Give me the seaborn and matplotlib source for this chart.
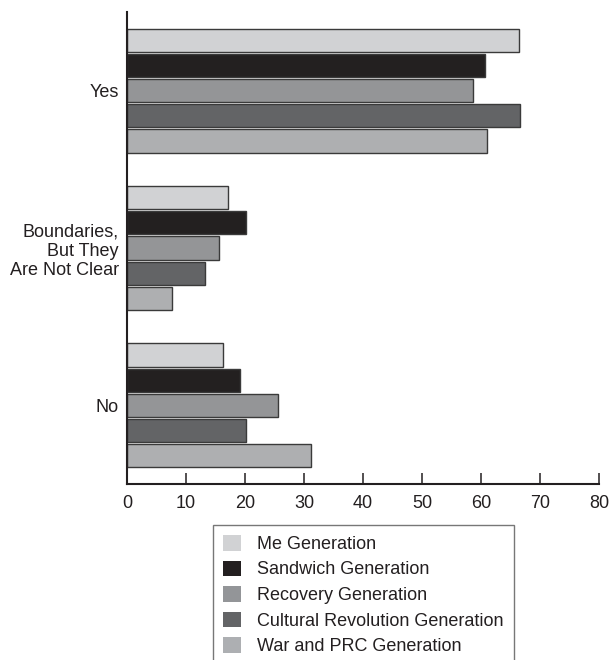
import matplotlib
matplotlib.use("Agg")
import matplotlib.pyplot as plt
from matplotlib.patches import Patch
import pandas as pd
import seaborn as sns

# ── Data ────────────────────────────────────────────────────────────────────
answers = ["Yes", "Boundaries,\nBut They\nAre Not Clear", "No"]
generations = [
    "Me Generation",
    "Sandwich Generation",
    "Recovery Generation",
    "Cultural Revolution Generation",
    "War and PRC Generation",
]
me_gen = [66.4, 17.1, 16.2]
sandwich_gen = [60.6, 20.2, 19.2]
recovery_gen = [58.7, 15.6, 25.6]
cultural_rev_gen = [66.6, 13.2, 20.2]
war_prc_gen = [61.1, 7.7, 31.2]
colors = ["#d1d2d4", "#231f20", "#939598", "#636466", "#adafb2"]
x_ticks = [0, 10, 20, 30, 40, 50, 60, 70, 80]

# ── Style ───────────────────────────────────────────────────────────────────
sns.set_theme(style="ticks")
plt.rcParams["font.family"] = ["Liberation Sans", "DejaVu Sans"]
plt.rcParams["text.color"] = "#231f20"

series = [me_gen, sandwich_gen, recovery_gen, cultural_rev_gen, war_prc_gen]
df = pd.DataFrame(
    [(a, g, v) for g, vals in zip(generations, series) for a, v in zip(answers, vals)],
    columns=["answer", "generation", "pct"],
)

fig = plt.figure(figsize=(6.1, 6.6), dpi=100)
ax = fig.add_axes([127 / 610, 1 - 484 / 660, 472 / 610, 472 / 660])

sns.barplot(
    data=df, x="pct", y="answer", hue="generation",
    order=answers, hue_order=generations, palette=colors,
    orient="h", width=0.8, gap=0.08, edgecolor="#3a3a3a", linewidth=1.0,
    legend=False, ax=ax,
)

ax.set_xlim(0, 80)
ax.set_ylim(2.5, -0.5)
ax.set_xticks(x_ticks)
ax.set_xlabel("")
ax.set_ylabel("")
sns.despine(ax=ax)
for side in ["left", "bottom"]:
    ax.spines[side].set_linewidth(1.5)
    ax.spines[side].set_color("#231f20")
ax.tick_params(axis="x", direction="in", length=8, width=1.1, pad=8,
               labelsize=13, colors="#231f20")
ax.tick_params(axis="y", length=0, pad=6, labelsize=13, colors="#231f20")
for lbl in ax.get_yticklabels():
    lbl.set_multialignment("right")

handles = [Patch(facecolor=c, edgecolor="none") for c in colors]
leg = ax.legend(
    handles, generations, loc="upper left",
    bbox_to_anchor=(213 / 610, 1 - 525 / 660), bbox_transform=fig.transFigure,
    borderaxespad=0, frameon=True, fancybox=False, fontsize=13,
    handlelength=1.0, handleheight=0.95, handletextpad=0.9,
    labelspacing=0.42, borderpad=0.55,
)
leg.get_frame().set_edgecolor("#555555")
leg.get_frame().set_linewidth(1.0)

fig.savefig("out.png", dpi=100)
